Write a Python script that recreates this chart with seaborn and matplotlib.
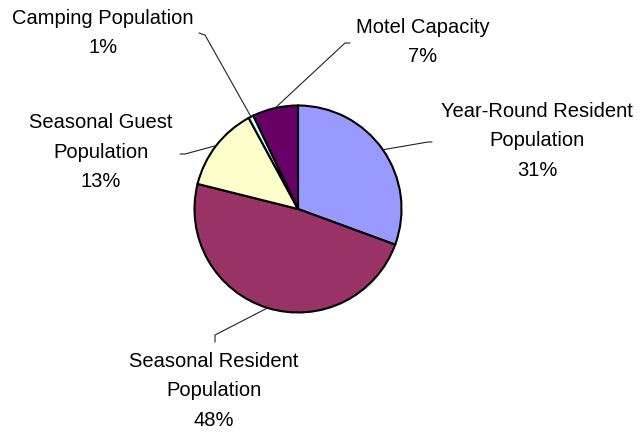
import numpy as np
import seaborn as sns
import matplotlib.pyplot as plt

# data (clockwise from 12 o'clock)
categories = ['Year-Round Resident\nPopulation', 'Seasonal Resident\nPopulation',
              'Seasonal Guest\nPopulation', 'Camping Population', 'Motel Capacity']
shares = [30.6, 48.3, 13.2, 0.8, 7.1]
colors = ['#9999FF', '#993366', '#FFFFCC', '#CCFFFF', '#660066']

# layout in pixels (origin top-left)
W, H = 644, 432
center = (298, 209)
radius = 103.5
label_xy = [(537, 141), (214, 391), (101, 152), (103, 33), (423, 42)]
leader_elbow = [(428, 142), (215, 335), (185, 154), (205, 35), (345, 43)]
leader_end = [(432, 142), (215, 342), (180, 154), (199, 33), (350, 43)]

sns.set_theme(style='white')
plt.rcParams['font.family'] = ['Liberation Sans', 'DejaVu Sans']

fig = plt.figure(figsize=(W / 100, H / 100), dpi=100)
ax = fig.add_axes([0, 0, 1, 1])


def px(x, y):
    return x, H - y


wedges, _ = ax.pie(shares, colors=sns.color_palette(colors), startangle=90,
                   counterclock=False, center=px(*center), radius=radius,
                   wedgeprops=dict(edgecolor='black', linewidth=1.5))

for w, name, val, lxy, el, en in zip(wedges, categories, shares,
                                     label_xy, leader_elbow, leader_end):
    mid = np.deg2rad((w.theta1 + w.theta2) / 2)
    ex = w.center[0] + w.r * np.cos(mid)
    ey = w.center[1] + w.r * np.sin(mid)
    xs = [ex, px(*el)[0], px(*en)[0]]
    ys = [ey, px(*el)[1], px(*en)[1]]
    ax.plot(xs, ys, color='#222222', lw=0.8)
    ax.text(*px(*lxy), f'{name}\n{val:.0f}%', ha='center', va='center',
            fontsize=14.5, linespacing=1.72, color='black')

ax.set_xlim(0, W)
ax.set_ylim(0, H)
ax.set_aspect('equal')
ax.axis('off')

fig.savefig('out.png', dpi=100)
